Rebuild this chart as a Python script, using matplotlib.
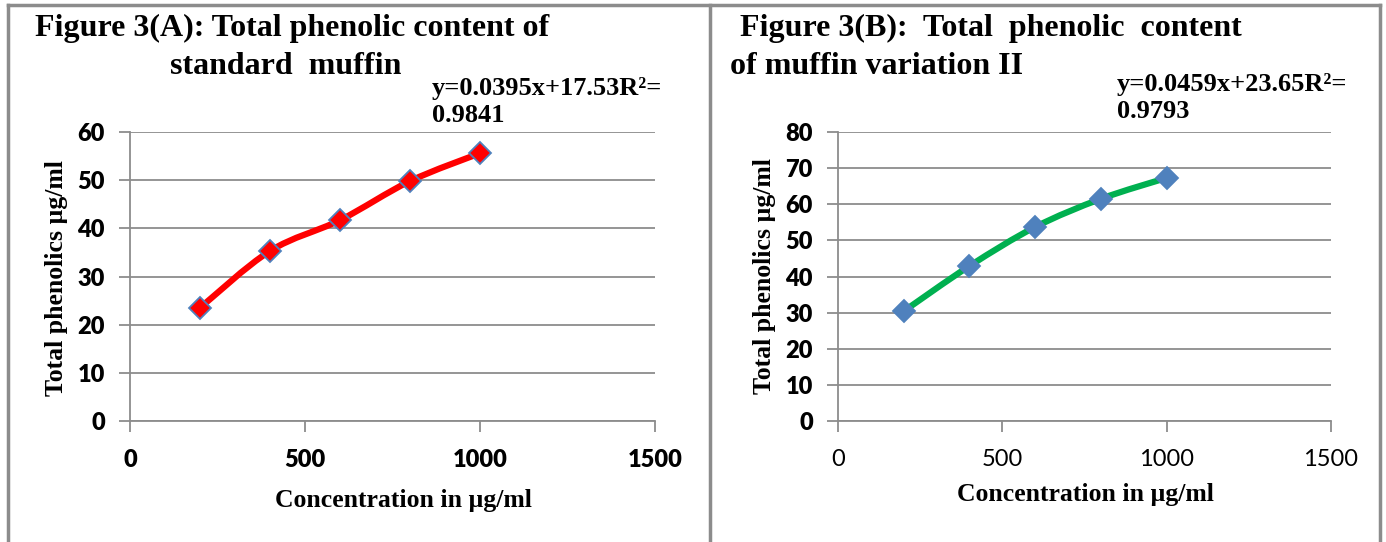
import matplotlib
matplotlib.use("Agg")
import matplotlib.pyplot as plt
from matplotlib.path import Path
from matplotlib.patches import PathPatch
from matplotlib.lines import Line2D

conc = [200, 400, 600, 800, 1000]
phenol_a = [23.5, 35.3, 41.7, 49.8, 55.6]
phenol_b = [30.4, 42.9, 53.7, 61.5, 67.3]
xticks = [0, 500, 1000, 1500]
yticks_a = [0, 10, 20, 30, 40, 50, 60]
yticks_b = [0, 10, 20, 30, 40, 50, 60, 70, 80]

W, H = 1386, 542
serif = "Liberation Serif"
sans = "Lato"
grey = "#8c8c8c"
blue = "#4f81bd"


def smooth_path(x, y):
    # catmull-rom turned into bezier pieces, like excel's smoothed line
    verts = [(x[0], y[0])]
    codes = [Path.MOVETO]
    n = len(x)
    for i in range(n - 1):
        x0, y0 = (x[i - 1], y[i - 1]) if i > 0 else (x[i], y[i])
        x3, y3 = (x[i + 2], y[i + 2]) if i + 2 < n else (x[i + 1], y[i + 1])
        c1 = (x[i] + (x[i + 1] - x0) / 6, y[i] + (y[i + 1] - y0) / 6)
        c2 = (x[i + 1] - (x3 - x[i]) / 6, y[i + 1] - (y3 - y[i]) / 6)
        verts += [c1, c2, (x[i + 1], y[i + 1])]
        codes += [Path.CURVE4] * 3
    return Path(verts, codes)


def panel(left, right, ylim, yticks, y, color, face, xbold):
    ax = fig.add_axes([left / W, (H - 421) / H, (right - left) / W, 289 / H])
    ax.set_xlim(0, 1500)
    ax.set_ylim(0, ylim)
    ax.set_xticks(xticks)
    ax.set_yticks(yticks)
    for s in ["top", "right"]:
        ax.spines[s].set_visible(False)
    for s in ["left", "bottom"]:
        ax.spines[s].set_color(grey)
        ax.spines[s].set_linewidth(1.3)
    ax.grid(axis="y", color=grey, linewidth=1.3)
    ax.set_axisbelow(True)
    ax.tick_params(axis="y", length=8, width=1.3, color=grey, pad=10)
    ax.tick_params(axis="x", length=8, width=1.3, color=grey, pad=12)
    for t in ax.get_yticklabels():
        t.set_fontfamily(sans)
        t.set_fontweight("heavy")
        t.set_fontsize(17)
    for t in ax.get_xticklabels():
        t.set_fontfamily(sans)
        t.set_fontweight("heavy" if xbold else "normal")
        t.set_fontsize(17)
    ax.add_patch(PathPatch(smooth_path(conc, y), fill=False, edgecolor=color,
                           linewidth=4.5, capstyle="round", joinstyle="round"))
    ax.plot(conc, y, linestyle="none", marker="D", markersize=11,
            markerfacecolor=face, markeredgecolor=blue, markeredgewidth=1.3,
            clip_on=False)
    return ax


fig = plt.figure(figsize=(W / 100, H / 100), dpi=100)

ax1 = panel(130, 655, 60, yticks_a, phenol_a, "#ff0000", "#ff0000", True)
ax2 = panel(838, 1331, 80, yticks_b, phenol_b, "#00b050", blue, False)

# panel frames
for xs, ys in [([8 / W, 8 / W], [0, 1 - 5 / H]),
               ([8 / W, 1380 / W], [1 - 5 / H, 1 - 5 / H]),
               ([710 / W, 710 / W], [0, 1 - 5 / H]),
               ([1380 / W, 1380 / W], [0, 1 - 5 / H])]:
    fig.add_artist(Line2D(xs, ys, color=grey, linewidth=2.5))

def txt(x, y, s, size, ha="left", rot=0):
    fig.text(x / W, 1 - y / H, s, fontsize=size, fontfamily=serif,
             fontweight="bold", ha=ha, va="center", rotation=rot)

txt(35, 28, "Figure 3(A): Total phenolic content of", 23)
txt(170, 67, "standard  muffin", 23)
txt(432, 88, "y=0.0395x+17.53R\u00b2=", 19)
txt(432, 115, "0.9841", 19)
txt(57, 278, "Total phenolics \u00b5g/ml", 18.5, ha="center", rot=90)
txt(403, 500, "Concentration in \u00b5g/ml", 18.5, ha="center")

txt(740, 28, "Figure 3(B):  Total  phenolic  content", 23)
txt(730, 67, "of muffin variation II", 23)
txt(1117, 85, "y=0.0459x+23.65R\u00b2=", 19)
txt(1117, 112, "0.9793", 19)
txt(765, 276, "Total phenolics \u00b5g/ml", 18.5, ha="center", rot=90)
txt(1085, 494, "Concentration in \u00b5g/ml", 18.5, ha="center")

fig.savefig("out.png", dpi=100)
